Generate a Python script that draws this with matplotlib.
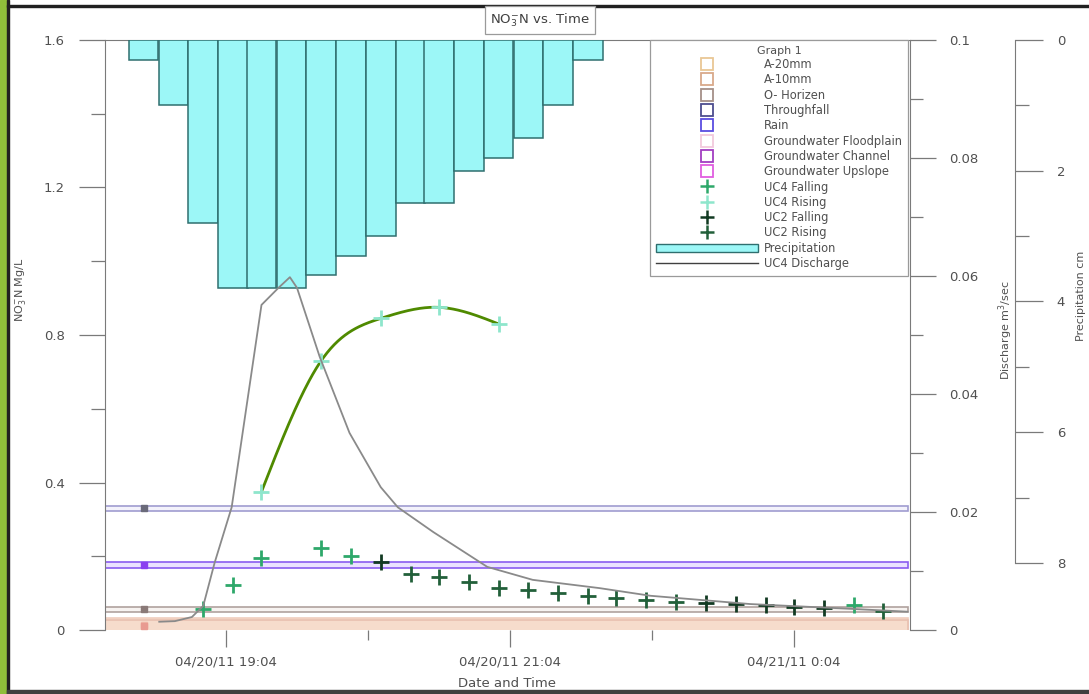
import numpy as np
import matplotlib
matplotlib.use('Agg')
import matplotlib.pyplot as plt
from matplotlib.lines import Line2D
from matplotlib.patches import Patch, Rectangle
from matplotlib.ticker import MultipleLocator, FixedLocator, FuncFormatter

plt.rcParams['font.family'] = ['DejaVu Sans']
plt.rcParams['mathtext.default'] = 'regular'

# time axis in hours (tick "04/20/11 19:04" = 0)
x_ticks = [0, 2, 4]
x_labels = ["04/20/11 19:04", "04/20/11 21:04", "04/21/11 0:04"]

# precipitation (cm), 12.5 min bins
rain_t = [-0.58, -0.37, -0.16, 0.05, 0.25, 0.46, 0.67, 0.88, 1.09, 1.30, 1.50, 1.71, 1.92, 2.13, 2.34, 2.55]
rain_cm = [0.3, 1.0, 2.8, 3.8, 3.8, 3.8, 3.6, 3.3, 3.0, 2.5, 2.5, 2.0, 1.8, 1.5, 1.0, 0.3]

# UC4 discharge (m3/sec)
q_t = [-0.47, -0.36, -0.24, -0.16, -0.08, 0.04, 0.25, 0.37, 0.45, 0.50, 0.66, 0.87,
       1.09, 1.21, 1.46, 1.84, 2.16, 2.63, 2.99, 3.69, 4.39, 4.80]
q = [0.0014, 0.0015, 0.0022, 0.0041, 0.0114, 0.0208, 0.0551, 0.0580, 0.0598, 0.0580, 0.0463, 0.0334,
     0.0242, 0.0208, 0.0166, 0.0107, 0.0085, 0.0071, 0.0058, 0.0044, 0.0036, 0.0031]

# NO3-N stream samples (mg/L)
uc4_rise_t = [0.25, 0.67, 1.09, 1.50, 1.92]
uc4_rise = [0.375, 0.73, 0.845, 0.875, 0.83]
uc4_fall_t = [-0.16, 0.05, 0.25, 0.67, 0.88, 4.42]
uc4_fall = [0.057, 0.122, 0.195, 0.222, 0.201, 0.068]
uc2_fall_t = [1.09, 3.38, 3.59, 3.80, 4.00, 4.21]
uc2_fall = [0.184, 0.073, 0.071, 0.068, 0.062, 0.060]
uc2_rise_t = [1.30, 1.50, 1.71, 1.92, 2.13, 2.34, 2.55, 2.75, 2.96, 3.17, 4.63]
uc2_rise = [0.152, 0.144, 0.130, 0.114, 0.108, 0.100, 0.092, 0.087, 0.081, 0.076, 0.052]

# end-member samples: mean NO3-N and half range
sample_names = ["A-20mm", "A-10mm", "O- Horizen", "Throughfall", "Rain",
                "Groundwater Floodplain", "Groundwater Channel", "Groundwater Upslope"]
sample_mean = [0.014, 0.012, 0.056, 0.330, 0.176, None, None, None]
sample_half = [0.019, 0.015, 0.0068, 0.0068, 0.008, None, None, None]
sample_t = -0.58

sample_edge = ["#e9c795", "#d9a98a", "#a59088", "#4d4d8f", "#5a4de0", "#f2c9dc", "#a23ec2", "#e05ee0"]
band_edge = ["#f0cdbd", "#e8c0b0", "#b0a29e", "#a09cd0", "#8a5cf0", None, None, None]
band_fill = ["#f8e0d2", "#f6dccc", "#f7f3f1", "#f3f2fb", "#ebe2ff", None, None, None]
mark_col = ["#f0b8a8", "#e89a90", "#8a7a78", "#6a6a7a", "#8a40f0", None, None, None]

grey = "#7a7a7a"
txt = "#505050"

fig = plt.figure(figsize=(10.89, 6.94), dpi=100)
ax = fig.add_axes([105 / 1089, 64 / 694, 805 / 1089, 590 / 694])
ax_p = ax.twinx()
ax_q = ax.twinx()

# --- left axis: NO3-N
ax.set_xlim(-0.852, 4.817)
ax.set_ylim(0, 1.6)
for i, m in enumerate(sample_mean):
    if m is None:
        continue
    h = sample_half[i]
    ax.axhspan(m - h, m + h, xmin=0, xmax=0.997, facecolor=band_fill[i],
               edgecolor=band_edge[i], lw=1.2, zorder=1)
    ax.plot([sample_t], [m], 's', ms=5, mfc=mark_col[i], mec=mark_col[i], zorder=2)

pk = dict(ls='none', marker='+', ms=12, mew=2, zorder=5)
ax.plot(uc4_fall_t, uc4_fall, color="#2ea86a", **pk)
ax.plot(uc2_fall_t, uc2_fall, color="#123a22", **pk)
ax.plot(uc2_rise_t, uc2_rise, color="#22603a", **pk)
ax.plot(uc4_rise_t, uc4_rise, color="#8ee6cc", **pk)


def natural_spline(xk, yk, n=200):
    xk = np.asarray(xk, float)
    yk = np.asarray(yk, float)
    m = len(xk)
    h = np.diff(xk)
    A = np.zeros((m, m))
    r = np.zeros(m)
    A[0, 0] = A[-1, -1] = 1
    for i in range(1, m - 1):
        A[i, i - 1] = h[i - 1]
        A[i, i] = 2 * (h[i - 1] + h[i])
        A[i, i + 1] = h[i]
        r[i] = 3 * ((yk[i + 1] - yk[i]) / h[i] - (yk[i] - yk[i - 1]) / h[i - 1])
    c = np.linalg.solve(A, r)
    b = (yk[1:] - yk[:-1]) / h - h * (2 * c[:-1] + c[1:]) / 3
    d = (c[1:] - c[:-1]) / (3 * h)
    xs = np.linspace(xk[0], xk[-1], n)
    idx = np.clip(np.searchsorted(xk, xs) - 1, 0, m - 2)
    dx = xs - xk[idx]
    return xs, yk[idx] + b[idx] * dx + c[idx] * dx ** 2 + d[idx] * dx ** 3


sx, sy = natural_spline(uc4_rise_t, uc4_rise)
ax.plot(sx, sy, color="#4f8a00", lw=2, zorder=4)

ax.set_xticks(x_ticks)
ax.set_xticklabels(x_labels)
ax.xaxis.set_minor_locator(MultipleLocator(1))
ax.yaxis.set_major_locator(MultipleLocator(0.4))
ax.yaxis.set_minor_locator(MultipleLocator(0.2))
ax.yaxis.set_major_formatter(FuncFormatter(lambda v, p: "%g" % round(v, 2)))
ax.tick_params(axis='y', which='major', length=19, width=0.9, color=grey, pad=10, labelsize=9.5, labelcolor=txt)
ax.tick_params(axis='y', which='minor', length=10, width=0.9, color=grey)
ax.tick_params(axis='x', which='major', length=12.5, width=0.9, color=grey, pad=6, labelsize=9.5, labelcolor=txt)
ax.tick_params(axis='x', which='minor', length=7, width=0.9, color=grey)
ax.spines['bottom'].set_visible(False)
ax.spines['right'].set_visible(False)
ax.spines['left'].set_color(grey)
ax.spines['top'].set_color(grey)
ax.set_ylabel(r"NO$_3^{-}$N Mg/L", fontsize=8, color=txt)
ax.yaxis.set_label_coords(-0.096, 0.576)
ax.set_xlabel("Date and Time", fontsize=9.5, color=txt, labelpad=6)

# --- precipitation axis (inverted, bars hanging from top)
ax_p.bar(rain_t, rain_cm, width=0.208, color="#9cf7f7", edgecolor="#2f6f6f", lw=1.1, zorder=2)
ax_p.set_ylim(9.025, 0)
ax_p.spines['right'].set_position(('axes', 1.1304))
ax_p.spines['right'].set_bounds(0, 8)
ax_p.spines['right'].set_color(grey)
for s in ['left', 'top', 'bottom']:
    ax_p.spines[s].set_visible(False)
ax_p.set_yticks([0, 2, 4, 6, 8])
ax_p.yaxis.set_minor_locator(FixedLocator([1, 3, 5, 7]))
ax_p.tick_params(axis='y', which='major', length=20, width=0.9, color=grey, pad=10, labelsize=9.5, labelcolor=txt)
ax_p.tick_params(axis='y', which='minor', length=10, width=0.9, color=grey)
ax_p.set_ylabel("Precipitation cm", fontsize=8, color=txt)
ax_p.yaxis.set_label_coords(1.206, 0.566)

# --- discharge axis
ax_q.plot(q_t, q, color="#8a8a8a", lw=1.3, zorder=3)
ax_q.set_ylim(0, 0.1)
ax_q.yaxis.set_major_locator(MultipleLocator(0.02))
ax_q.yaxis.set_minor_locator(MultipleLocator(0.01))
ax_q.yaxis.set_major_formatter(FuncFormatter(lambda v, p: "%g" % round(v, 3)))
ax_q.tick_params(axis='y', which='major', length=19, width=0.9, color=grey, pad=9, labelsize=9.5, labelcolor=txt)
ax_q.tick_params(axis='y', which='minor', length=9.5, width=0.9, color=grey)
ax_q.spines['right'].set_color(grey)
for s in ['left', 'top', 'bottom']:
    ax_q.spines[s].set_visible(False)
ax_q.set_ylabel(r"Discharge m$^3$/sec", fontsize=8, color=txt)
ax_q.yaxis.set_label_coords(1.107, 0.508)

# --- legend
handles = []
for i, name in enumerate(sample_names):
    handles.append(Line2D([], [], ls='none', marker='s', ms=8.5, mfc='none', mec=sample_edge[i], mew=1.3, label=name))
for lab, col in [("UC4 Falling", "#2ea86a"), ("UC4 Rising", "#8ee6cc"),
                 ("UC2 Falling", "#123a22"), ("UC2 Rising", "#22603a")]:
    handles.append(Line2D([], [], ls='none', marker='+', ms=10, mew=1.8, color=col, label=lab))
handles.append(Patch(facecolor="#9cf7f7", edgecolor="#2f6f6f", lw=1, label="Precipitation"))
handles.append(Line2D([], [], color="#404040", lw=1, label="UC4 Discharge"))
leg = ax_q.legend(handles=handles, title="Graph 1", loc='upper right', bbox_to_anchor=(0.9975, 1.0),
                  borderaxespad=0, fontsize=8.3, title_fontsize=8, handlelength=8.9, handleheight=0.7,
                  labelspacing=0.2, handletextpad=0.5, borderpad=0.5, fancybox=False, framealpha=1)
leg.get_frame().set_edgecolor("#9a9a9a")
leg.get_frame().set_linewidth(0.9)
for t in leg.get_texts():
    t.set_color(txt)
leg.get_title().set_color(txt)

# --- title box
fig.text(540 / 1089, 1 - 20 / 694, r"NO$_3^{-}$N vs. Time", ha='center', va='center', fontsize=9.5, color="#404040",
         bbox=dict(boxstyle='square,pad=0.4', fc='white', ec='#9a9a9a', lw=0.9))

# --- slide frame
fig.patches.append(Rectangle((0, 0), 7 / 1089, 1, transform=fig.transFigure, color="#8fbf3a", zorder=0))
fig.patches.append(Rectangle((7 / 1089, 0), 1.5 / 1089, 1, transform=fig.transFigure, color="#202020", zorder=0))
fig.patches.append(Rectangle((7 / 1089, 1 - 7 / 694), 1, 2 / 694, transform=fig.transFigure, color="#202020", zorder=0))
fig.patches.append(Rectangle((7 / 1089, 0), 1, 4 / 694, transform=fig.transFigure, color="#404040", zorder=0))

fig.savefig("out.png", dpi=100)
